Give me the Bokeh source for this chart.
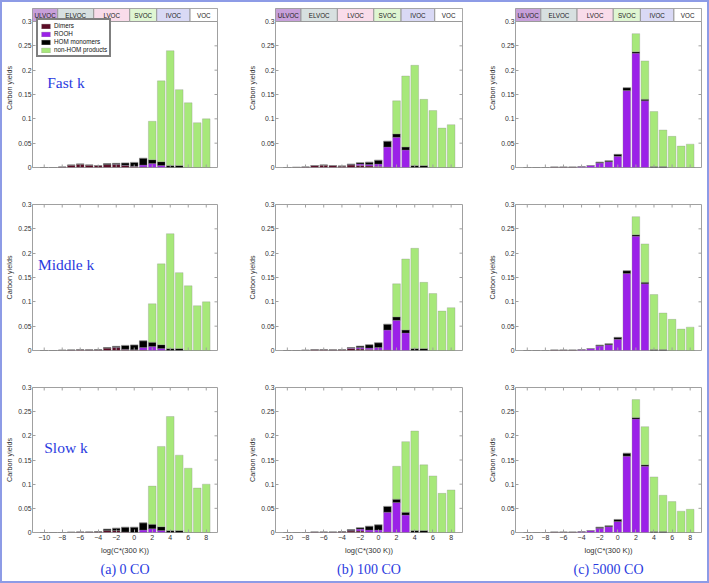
from bokeh.plotting import figure
from bokeh.layouts import column, row
from bokeh.models import FixedTicker, Label, Title, Range1d, ColumnDataSource
from bokeh.core.properties import value
from bokeh.embed import file_html
from bokeh.resources import INLINE

# ---------------- data ----------------
log_cstar = list(range(-10, 9))
x_ticks = list(range(-10, 9, 2))
y_ticks = [0, 0.05, 0.1, 0.15, 0.2, 0.25, 0.3]
y_tick_labels = ["0", "0.05", "0.1", "0.15", "0.2", "0.25", "0.3"]

species = ["Dimers", "ROOH", "HOM monomers", "non-HOM products"]
species_keys = ["dimers", "rooh", "hom", "nonhom"]
species_colors = ["#5b0b25", "#9b21e8", "#000000", "#a7e87a"]

vol_classes = ["ULVOC", "ELVOC", "LVOC", "SVOC", "IVOC", "VOC"]
class_lo = [-11.3, -8.5, -4.5, -0.5, 2.5, 6.2]
class_hi = [-8.5, -4.5, -0.5, 2.5, 6.2, 9.25]
class_colors = ["#c7a0da", "#d7e0e0", "#f9dcea", "#dff6d2", "#d9d9f5", "#ffffff"]

row_labels = ["Fast k", "Middle k", "Slow k"]
col_captions = ["(a) 0 CO", "(b) 100 CO", "(c) 5000 CO"]

#  bins:  -10 .. 8
# (a) 0 CO
nonhom_a = [0, 0, 0, 0, 0, 0, 0, 0, 0, 0, 0, 0, 0.079, 0.166, 0.236, 0.156, 0.133, 0.092, 0.100]
dim_a_fast = [0, 0, 0.001, 0.005, 0.007, 0.005, 0.004, 0.006, 0.006, 0.004, 0.002, 0.001, 0, 0, 0, 0, 0, 0, 0]
rooh_a_fast = [0, 0, 0, 0, 0, 0, 0, 0, 0.0005, 0.0005, 0.0005, 0.004, 0.008, 0.004, 0, 0, 0, 0, 0]
hom_a_fast = [0, 0, 0, 0, 0, 0, 0, 0.002, 0.002, 0.005, 0.008, 0.014, 0.008, 0.008, 0.004, 0.004, 0, 0, 0]
dim_a_mid = [0, 0, 0.0005, 0.001, 0.002, 0.0015, 0.0015, 0.005, 0.006, 0.002, 0.001, 0.001, 0, 0, 0, 0, 0, 0, 0]
rooh_a_mid = [0, 0, 0, 0, 0, 0, 0, 0, 0.0005, 0.0005, 0.0005, 0.005, 0.008, 0.004, 0, 0, 0, 0, 0]
hom_a_mid = [0, 0, 0, 0, 0, 0, 0.0005, 0.001, 0.002, 0.008, 0.010, 0.014, 0.009, 0.008, 0.004, 0.004, 0, 0, 0]
dim_a_slow = [0, 0, 0, 0.0005, 0.001, 0.001, 0.0015, 0.004, 0.004, 0.001, 0, 0, 0, 0, 0, 0, 0, 0, 0]
rooh_a_slow = [0, 0, 0, 0, 0, 0, 0, 0, 0, 0, 0, 0.005, 0.008, 0.004, 0, 0, 0, 0, 0]
hom_a_slow = [0, 0, 0, 0, 0, 0, 0.0005, 0.003, 0.005, 0.010, 0.011, 0.015, 0.009, 0.008, 0.004, 0.004, 0, 0, 0]
# (b) 100 CO
nonhom_b = [0, 0, 0, 0, 0, 0, 0, 0, 0, 0, 0, 0, 0.068, 0.146, 0.206, 0.136, 0.117, 0.081, 0.088]
dim_b_fast = [0, 0.0003, 0.001, 0.004, 0.005, 0.004, 0.003, 0.005, 0.004, 0.003, 0.002, 0.001, 0, 0, 0, 0, 0, 0, 0]
rooh_b_fast = [0, 0, 0, 0, 0, 0, 0, 0.001, 0.003, 0.003, 0.005, 0.041, 0.062, 0.036, 0, 0, 0, 0, 0]
hom_b_fast = [0, 0, 0, 0, 0, 0, 0, 0.001, 0.003, 0.005, 0.008, 0.012, 0.007, 0.006, 0.004, 0.004, 0, 0, 0]
dim_b_mid = [0, 0, 0.0005, 0.002, 0.002, 0.0015, 0.002, 0.004, 0.003, 0.002, 0.001, 0.001, 0, 0, 0, 0, 0, 0, 0]
rooh_b_mid = [0, 0, 0, 0, 0, 0, 0, 0.001, 0.003, 0.003, 0.005, 0.041, 0.062, 0.036, 0, 0, 0, 0, 0]
hom_b_mid = [0, 0, 0, 0, 0, 0, 0, 0.001, 0.003, 0.007, 0.010, 0.012, 0.007, 0.006, 0.004, 0.004, 0, 0, 0]
dim_b_slow = [0, 0, 0, 0.001, 0.001, 0.001, 0.002, 0.003, 0.003, 0.001, 0, 0.001, 0, 0, 0, 0, 0, 0, 0]
rooh_b_slow = [0, 0, 0, 0, 0, 0, 0, 0.001, 0.004, 0.004, 0.005, 0.041, 0.062, 0.036, 0, 0, 0, 0, 0]
hom_b_slow = [0, 0, 0, 0, 0, 0, 0, 0.002, 0.003, 0.008, 0.011, 0.012, 0.007, 0.006, 0.004, 0.004, 0, 0, 0]
# (c) 5000 CO
nonhom_c = [0, 0, 0, 0, 0, 0, 0, 0, 0, 0, 0, 0, 0.037, 0.079, 0.113, 0.075, 0.064, 0.044, 0.048]
dim_c_fast = [0, 0, 0, 0.0008, 0.0008, 0.0008, 0, 0, 0, 0, 0, 0, 0, 0, 0, 0, 0, 0, 0]
rooh_c_fast = [0, 0, 0, 0, 0, 0, 0.002, 0.004, 0.009, 0.012, 0.023, 0.158, 0.235, 0.137, 0, 0, 0, 0, 0]
hom_c_fast = [0, 0, 0, 0, 0, 0, 0, 0, 0.002, 0.002, 0.004, 0.006, 0.003, 0.003, 0.002, 0.002, 0, 0, 0]
dim_c_mid = [0, 0, 0, 0.0008, 0.0008, 0.0008, 0, 0, 0, 0, 0, 0, 0, 0, 0, 0, 0, 0, 0]
rooh_c_mid = [0, 0, 0, 0, 0, 0, 0.002, 0.004, 0.009, 0.012, 0.023, 0.158, 0.235, 0.137, 0, 0, 0, 0, 0]
hom_c_mid = [0, 0, 0, 0, 0, 0, 0, 0, 0.002, 0.002, 0.004, 0.006, 0.003, 0.003, 0.002, 0.002, 0, 0, 0]
dim_c_slow = [0, 0, 0, 0.0008, 0.0008, 0.0008, 0, 0, 0, 0, 0, 0, 0, 0, 0, 0, 0, 0, 0]
rooh_c_slow = [0, 0, 0, 0, 0, 0, 0.002, 0.004, 0.009, 0.012, 0.023, 0.158, 0.235, 0.137, 0, 0, 0, 0, 0]
hom_c_slow = [0, 0, 0, 0, 0, 0, 0, 0, 0.002, 0.002, 0.004, 0.006, 0.003, 0.003, 0.002, 0.002, 0, 0, 0]

panels = [
    [(dim_a_fast, rooh_a_fast, hom_a_fast, nonhom_a),
     (dim_b_fast, rooh_b_fast, hom_b_fast, nonhom_b),
     (dim_c_fast, rooh_c_fast, hom_c_fast, nonhom_c)],
    [(dim_a_mid, rooh_a_mid, hom_a_mid, nonhom_a),
     (dim_b_mid, rooh_b_mid, hom_b_mid, nonhom_b),
     (dim_c_mid, rooh_c_mid, hom_c_mid, nonhom_c)],
    [(dim_a_slow, rooh_a_slow, hom_a_slow, nonhom_a),
     (dim_b_slow, rooh_b_slow, hom_b_slow, nonhom_b),
     (dim_c_slow, rooh_c_slow, hom_c_slow, nonhom_c)],
]

# ---------------- layout ----------------
SANS = "Liberation Sans"
SERIF = "Liberation Serif"
BLUE = "#2a3be0"
BOX = "#a0a0a0"
TXT = "#303030"

X0, X1 = -11.3, 9.25
col_w = [238, 238, 229]
col_left = [29, 35, 37]
col_right = [23, 16, 6]
row_h = [183, 183, 213]
row_top = [6, 19, 19]
row_bottom = [18, 18, 49]
strip_frac = 13.0 / 146.0
label_pos = [(-9.67, 0.175), (-10.7, 0.177), (-10.0, 0.176)]
TICK_PX = 3.0


def make_panel(r, c):
    dim, rooh, hom, non = panels[r][c]
    y_top = 0.3 * (1 + strip_frac) if r == 0 else 0.3
    p = figure(width=col_w[c], height=row_h[r], output_backend="svg", toolbar_location=None,
               x_range=Range1d(X0, X1), y_range=Range1d(0, y_top),
               min_border_left=col_left[c], min_border_right=col_right[c],
               min_border_top=row_top[r], min_border_bottom=row_bottom[r])
    p.grid.visible = False
    p.outline_line_color = BOX
    p.outline_line_width = 1
    p.background_fill_color = "white"
    p.border_fill_color = "white"

    src = ColumnDataSource(dict(x=log_cstar, dimers=dim, rooh=rooh, hom=hom, nonhom=non))
    kw = {}
    if r == 0 and c == 0:
        kw["legend_label"] = species
    p.vbar_stack(species_keys, x="x", width=0.85, color=species_colors, source=src,
                 line_color="#8a8a8a", line_width=0.5, line_alpha=0.6, **kw)

    # tick lengths in data units (inward ticks on the unlabeled sides)
    frame_w = col_w[c] - col_left[c] - col_right[c]
    dx = TICK_PX * (X1 - X0) / frame_w
    dy = TICK_PX * 0.3 / 146.0
    inner_y = [t for t in y_ticks if 0 < t < 0.3]
    p.segment(x0=[X1 - dx] * len(inner_y), x1=[X1] * len(inner_y), y0=inner_y, y1=inner_y,
              line_color=BOX, line_width=1)
    if r > 0:
        p.segment(x0=x_ticks, x1=x_ticks, y0=[0.3 - dy] * len(x_ticks), y1=[0.3] * len(x_ticks),
                  line_color=BOX, line_width=1)

    # axes
    xa = p.xaxis[0]
    if r == 2:
        xa.ticker = FixedTicker(ticks=x_ticks)
        xa.axis_line_color = None
        xa.major_tick_in = 3
        xa.major_tick_out = 0
        xa.major_tick_line_color = BOX
        xa.minor_tick_line_color = None
        xa.major_label_text_font = SANS
        xa.major_label_text_color = TXT
        xa.major_label_standoff = 2
        xa.major_label_text_font_size = "7px"
        xa.axis_label = "log(C*(300 K))"
        xa.axis_label_text_font = SANS
        xa.axis_label_text_font_size = "7.5px"
        xa.axis_label_text_font_style = "normal"
        xa.axis_label_text_color = TXT
        xa.axis_label_standoff = 3
    else:
        xa.visible = False
        p.segment(x0=x_ticks, x1=x_ticks, y0=[0] * len(x_ticks), y1=[dy] * len(x_ticks),
                  line_color=BOX, line_width=1)

    ya = p.yaxis[0]
    ya.ticker = FixedTicker(ticks=y_ticks)
    ya.major_label_overrides = {t: s for t, s in zip(y_ticks, y_tick_labels)}
    ya.axis_line_color = None
    ya.major_tick_in = 3
    ya.major_tick_out = 0
    ya.major_tick_line_color = BOX
    ya.minor_tick_line_color = None
    ya.major_label_text_font = SANS
    ya.major_label_text_font_size = "6.8px"
    ya.major_label_text_color = TXT
    ya.major_label_standoff = 1
    ya.axis_label = "Carbon yields"
    ya.axis_label_text_font = SANS
    ya.axis_label_text_font_size = "7.2px"
    ya.axis_label_text_font_style = "normal"
    ya.axis_label_text_color = TXT
    ya.axis_label_standoff = 1

    # volatility class strip on the top row
    if r == 0:
        p.quad(left=class_lo, right=class_hi, bottom=0.3, top=y_top,
               fill_color=class_colors, line_color="#9a9a9a", line_width=1)
        centers = [(a + b) / 2 for a, b in zip(class_lo, class_hi)]
        p.text(x=centers, y=[0.3 * (1 + strip_frac / 2)] * len(centers), text=vol_classes,
               text_font=value(SANS), text_font_size="6.3px", text_color="#222222",
               text_align="center", text_baseline="middle")

    if c == 0:
        lx, ly = label_pos[r]
        p.add_layout(Label(x=lx, y=ly, text=row_labels[r], text_font=SERIF,
                           text_font_size="15.5px", text_color=BLUE,
                           text_baseline="alphabetic"))

    if r == 2:
        t = Title(text=col_captions[c], align="center", text_font=SERIF,
                  text_font_size="14px", text_color=BLUE, text_font_style="normal",
                  standoff=4)
        p.add_layout(t, "below")

    if r == 0 and c == 0:
        lg = p.legend[0]
        lg.location = (4, 110)
        lg.border_line_color = "black"
        lg.border_line_width = 2
        lg.background_fill_color = "white"
        lg.background_fill_alpha = 1
        lg.label_text_font = SANS
        lg.label_text_font_size = "6.3px"
        lg.label_text_color = "#111111"
        lg.label_height = 6
        lg.glyph_height = 6
        lg.glyph_width = 11
        lg.label_standoff = 3
        lg.spacing = 1
        lg.padding = 2
        lg.margin = 0
    return p


rows = []
for r in range(3):
    rows.append(row(*[make_panel(r, c) for c in range(3)]))

layout = column(*rows, styles={"border": "2px solid #8d9be6"})

open("out.html", "w").write(file_html(layout, INLINE))
